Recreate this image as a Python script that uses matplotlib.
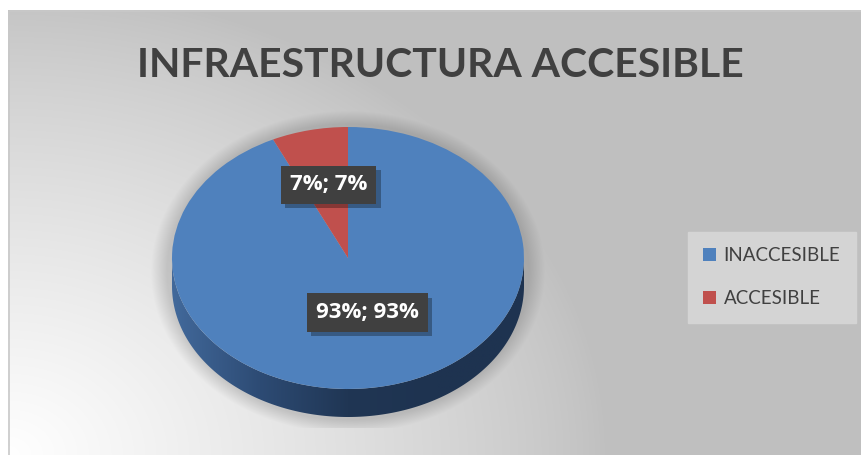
import numpy as np
import matplotlib.pyplot as plt
import matplotlib.patheffects as pe
from matplotlib.patches import Polygon, Rectangle
from matplotlib.colors import LinearSegmentedColormap

categorias = ['INACCESIBLE', 'ACCESIBLE']
porcentajes = [93, 7]
etiquetas = ['93%; 93%', '7%; 7%']
colores = ['#4f81bd', '#c0504d']
titulo = 'INFRAESTRUCTURA ACCESIBLE'

W, H = 861, 455
fig = plt.figure(figsize=(W / 100, H / 100), dpi=100)

# fondo: gris con degradado blanco desde la esquina inferior izquierda
bg = fig.add_axes([0, 0, 1, 1])
yy, xx = np.mgrid[10:H, 8:W] + 0.5
r = np.sqrt(((xx - 8) / 600) ** 2 + ((H - yy) / 470) ** 2)
gris = 191 + 64 * np.clip(1 - r, 0, 1) ** 0.8
# sombra suave alrededor del pastel
cx, cy, sa, sb = 348, 272, 181, 148
rho = np.sqrt(((xx - cx) / sa) ** 2 + ((yy - cy) / sb) ** 2)
sombra = np.clip(1 - (rho - 1) / 0.09, 0, 1) * (yy < 428)
gris = gris * (1 - 0.15 * sombra)
bg.imshow(np.dstack([gris] * 3) / 255, extent=(8, W, H, 10), aspect='auto',
          interpolation='bilinear')
bg.add_patch(Rectangle((8.5, 10.5), W, H, fill=False, ec='#c8c8c8', lw=1.2))
bg.set_xlim(0, W)
bg.set_ylim(H, 0)
bg.axis('off')

bg.text(440, 77, titulo, ha='center', va='baseline', fontsize=29.4,
        fontweight='bold', color='#404040', family='Lato')

# pastel en un eje propio, achatado para que se vea en perspectiva
a_px, b_px = 176, 131
pcx, pcy = 348, 258
x0, x1, y0, y1 = -1.2, 1.2, -1.5, 1.2
ax = fig.add_axes([(pcx + x0 * a_px) / W, (H - (pcy - y0 * b_px)) / H,
                   (x1 - x0) * a_px / W, (y1 - y0) * b_px / H])

inicio = 90 + 360 * porcentajes[1] / sum(porcentajes)
wedges, _ = ax.pie(porcentajes, colors=colores, startangle=inicio,
                   counterclock=True, wedgeprops=dict(linewidth=0))

# canto del disco
prof = 28 / b_px
t = np.linspace(np.pi, 2 * np.pi, 200)
lado = np.concatenate([np.c_[np.cos(t), np.sin(t)],
                       np.c_[np.cos(t[::-1]), np.sin(t[::-1]) - prof]])
poly = Polygon(lado, closed=True, fc='none', ec='none')
ax.add_patch(poly)
cmap = LinearSegmentedColormap.from_list(
    'lado', ['#42699b', '#2d4b74', '#203654', '#1e3350', '#1e3350'])
grad = ax.imshow(np.linspace(0, 1, 256)[None, :], cmap=cmap,
                 extent=(-1, 1, -1 - prof, 0), aspect='auto', zorder=0.5)
grad.set_clip_path(poly)

ax.set_aspect('auto')
ax.set_xlim(x0, x1)
ax.set_ylim(y0, y1)
ax.axis('off')

# etiquetas de datos con caja oscura y sombra
for w, etq in zip(wedges, etiquetas):
    mid = np.deg2rad((w.theta1 + w.theta2) / 2)
    x = 0.5 * np.cos(mid)
    y = 0.07 + 0.5 * np.sin(mid)
    txt = ax.text(x, y, etq, ha='center', va='center', fontsize=16,
                  fontweight='bold', family='Open Sans', color='white', zorder=5,
                  bbox=dict(boxstyle='square,pad=0.4', fc='#404040', ec='none'))
    txt.get_bbox_patch().set_path_effects(
        [pe.SimplePatchShadow(offset=(3, -3), shadow_rgbFace='black', alpha=0.3),
         pe.Normal()])

leg = fig.legend(wedges, categorias, loc='upper left',
                 bbox_to_anchor=(688 / W, 1 - 232 / H), borderaxespad=0,
                 frameon=True, fancybox=False, facecolor='#d4d4d4',
                 edgecolor='#d4d4d4', framealpha=1,
                 handlelength=0.68, handleheight=0.68, handletextpad=0.4,
                 labelspacing=1.38, borderpad=0.82,
                 prop=dict(family='Lato', size=13.5))
for txt in leg.get_texts():
    txt.set_color('#404040')

fig.savefig('out.png', dpi=100)
